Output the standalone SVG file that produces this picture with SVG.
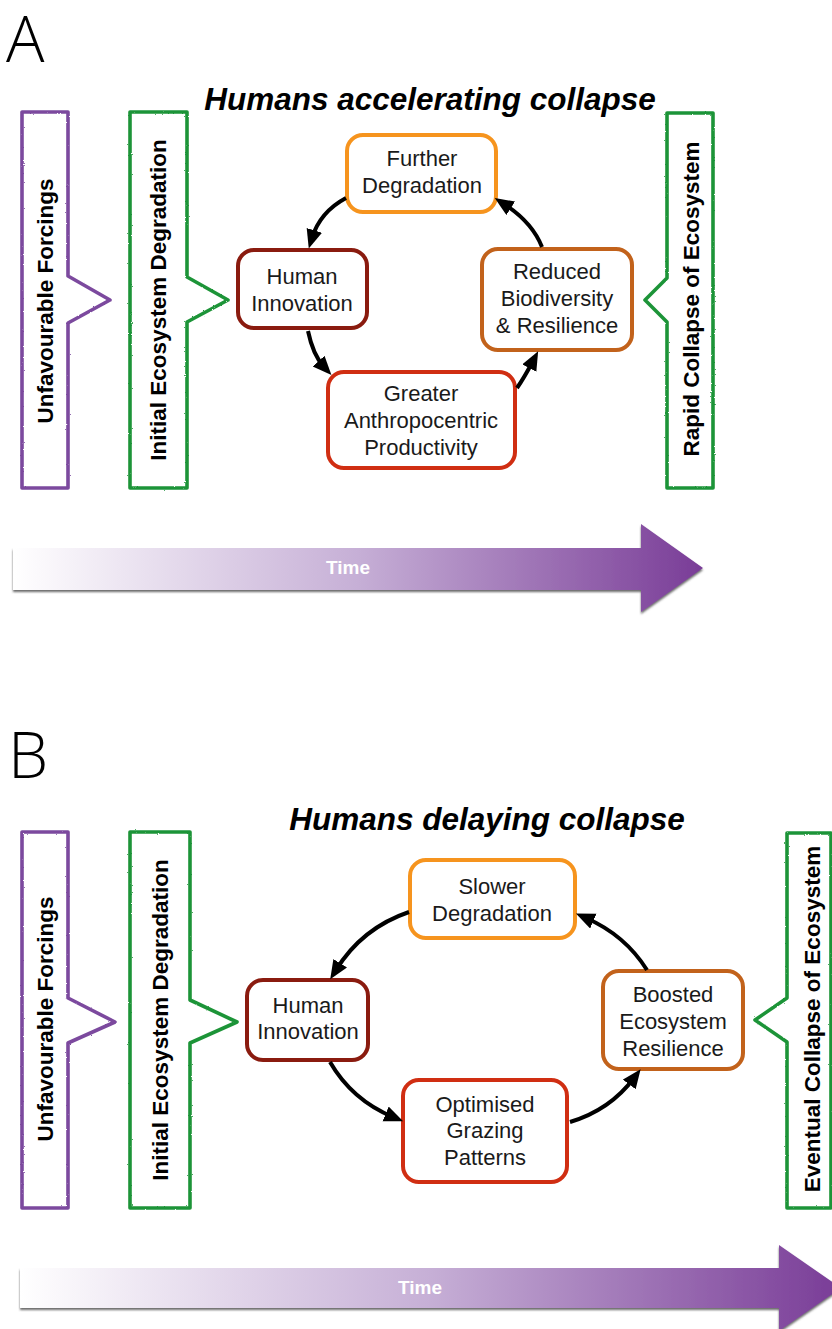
<svg xmlns="http://www.w3.org/2000/svg" width="832" height="1329" viewBox="0 0 832 1329">
<defs>
<style>
.lbl{font-family:"Open Sans","Liberation Sans",sans-serif;font-weight:300;font-size:64px;fill:#000}
.title{font-family:"Liberation Sans",Arial,sans-serif;font-weight:bold;font-style:italic;font-size:31.5px;fill:#000;text-anchor:middle}
.node rect{fill:#fff;stroke-width:4}
.node text{font-family:"Liberation Sans",Arial,sans-serif;font-size:22px;fill:#1a1a1a;text-anchor:middle}
.co path{fill:#fff;stroke-width:3.6;stroke-linejoin:round}
.co text{font-family:"Liberation Sans",Arial,sans-serif;font-weight:bold;font-size:22.5px;fill:#000;text-anchor:middle}
.purple{stroke:#7B4A9E}
.green{stroke:#1E9438}
.c1{stroke:#F6941E}
.c2{stroke:#8A1B0F}
.c3{stroke:#D02E12}
.c4{stroke:#C2621B}
.conn path{fill:none;stroke:#000;stroke-width:4}
.time{font-family:"Liberation Sans",Arial,sans-serif;font-weight:bold;font-size:19px;fill:#fff;text-anchor:middle}
</style>
<marker id="ah" markerUnits="userSpaceOnUse" markerWidth="20" markerHeight="18" refX="8" refY="8" orient="auto">
<path d="M0,0 L19,8 L0,16 Z" fill="#000"/>
</marker>
<linearGradient id="tg" x1="0" y1="0" x2="1" y2="0">
<stop offset="0" stop-color="#ffffff"/>
<stop offset="0.5" stop-color="#C6AFD6"/>
<stop offset="1" stop-color="#793C97"/>
</linearGradient>
<filter id="sh" x="-5%" y="-20%" width="110%" height="150%">
<feDropShadow dx="0" dy="2" stdDeviation="1" flood-color="#444" flood-opacity="0.8"/>
</filter>
<filter id="rough" x="-10%" y="-5%" width="120%" height="110%">
<feTurbulence type="fractalNoise" baseFrequency="0.9" numOctaves="2" result="n"/>
<feDisplacementMap in="SourceGraphic" in2="n" scale="2"/>
</filter>
</defs>

<rect width="832" height="1329" fill="#fff"/>

<!-- Panel A -->
<text class="lbl" x="6" y="62">A</text>
<text class="title" x="430" y="110">Humans accelerating collapse</text>

<g id="a-unfavourable" class="co">
<path class="purple" filter="url(#rough)" d="M22,112 H68 V276 L110,300 L68,323 V488 H22 Z"/>
<text transform="translate(53,301) rotate(-90)">Unfavourable Forcings</text>
</g>
<g id="a-initial" class="co">
<path class="green" filter="url(#rough)" d="M130,112 H187 V277 L228,300 L187,322 V488 H130 Z"/>
<text transform="translate(166,300) rotate(-90)">Initial Ecosystem Degradation</text>
</g>
<g id="a-rapid" class="co">
<path class="green" filter="url(#rough)" d="M667,113 H713 V488 H667 V322 L645,300 L667,278 Z"/>
<text transform="translate(699,299) rotate(-90)">Rapid Collapse of Ecosystem</text>
</g>

<g id="a-further" class="node">
<rect class="c1" x="347" y="135" width="149" height="77" rx="16"/>
<text x="422" y="166">Further</text>
<text x="422" y="193">Degradation</text>
</g>
<g id="a-human" class="node">
<rect class="c2" x="238" y="250" width="129" height="78" rx="16"/>
<text x="302" y="284">Human</text>
<text x="302" y="311">Innovation</text>
</g>
<g id="a-greater" class="node">
<rect class="c3" x="328" y="372" width="187" height="96" rx="16"/>
<text x="421" y="401">Greater</text>
<text x="421" y="428">Anthropocentric</text>
<text x="421" y="455">Productivity</text>
</g>
<g id="a-reduced" class="node">
<rect class="c4" x="482" y="249" width="150" height="101" rx="16"/>
<text x="557" y="279">Reduced</text>
<text x="557" y="306">Biodiversity</text>
<text x="557" y="333">&amp; Resilience</text>
</g>

<g id="a-connectors" class="conn">
<path marker-end="url(#ah)" d="M346,198 Q320,212 312,238"/>
<path marker-end="url(#ah)" d="M308,331 Q313,355 324,367"/>
<path marker-end="url(#ah)" d="M517,388 Q524,378 533,361"/>
<path marker-end="url(#ah)" d="M542,247 Q532,222 504,204"/>
</g>

<g id="a-time">
<path filter="url(#sh)" fill="url(#tg)" d="M13,548 H641 V524 L703,568 L641,612 V590 H13 Z"/>
<text class="time" x="348" y="574">Time</text>
</g>

<!-- Panel B -->
<text class="lbl" x="8" y="778">B</text>
<text class="title" x="487" y="830">Humans delaying collapse</text>

<g id="b-unfavourable" class="co">
<path class="purple" filter="url(#rough)" d="M22,832 H68 V998 L115,1022 L68,1043 V1208 H22 Z"/>
<text transform="translate(53,1019) rotate(-90)">Unfavourable Forcings</text>
</g>
<g id="b-initial" class="co">
<path class="green" filter="url(#rough)" d="M130,832 H190 V1000 L237,1022 L190,1043 V1208 H130 Z"/>
<text transform="translate(168,1020) rotate(-90)">Initial Ecosystem Degradation</text>
</g>
<g id="b-eventual" class="co">
<path class="green" filter="url(#rough)" d="M787,833 H831 V1208 H787 V1042 L755,1020 L787,998 Z"/>
<text transform="translate(820,1019) rotate(-90)">Eventual Collapse of Ecosystem</text>
</g>

<g id="b-slower" class="node">
<rect class="c1" x="410" y="860" width="165" height="78" rx="16"/>
<text x="492" y="894">Slower</text>
<text x="492" y="921">Degradation</text>
</g>
<g id="b-human" class="node">
<rect class="c2" x="247" y="980" width="121" height="80" rx="16"/>
<text x="308" y="1013">Human</text>
<text x="308" y="1039">Innovation</text>
</g>
<g id="b-optimised" class="node">
<rect class="c3" x="403" y="1080" width="164" height="102" rx="16"/>
<text x="485" y="1112">Optimised</text>
<text x="485" y="1138">Grazing</text>
<text x="485" y="1165">Patterns</text>
</g>
<g id="b-boosted" class="node">
<rect class="c4" x="603" y="971" width="140" height="98" rx="16"/>
<text x="673" y="1002">Boosted</text>
<text x="673" y="1029">Ecosystem</text>
<text x="673" y="1056">Resilience</text>
</g>

<g id="b-connectors" class="conn">
<path marker-end="url(#ah)" d="M409,912 Q362,928 336,970"/>
<path marker-end="url(#ah)" d="M330,1062 Q352,1100 393,1117"/>
<path marker-end="url(#ah)" d="M570,1122 Q610,1110 634,1078"/>
<path marker-end="url(#ah)" d="M647,970 Q625,935 586,918"/>
</g>

<g id="b-time">
<path filter="url(#sh)" fill="url(#tg)" d="M20,1268 H779 V1245 L841,1288 L779,1331 V1308 H20 Z"/>
<text class="time" x="420" y="1294">Time</text>
</g>
</svg>
